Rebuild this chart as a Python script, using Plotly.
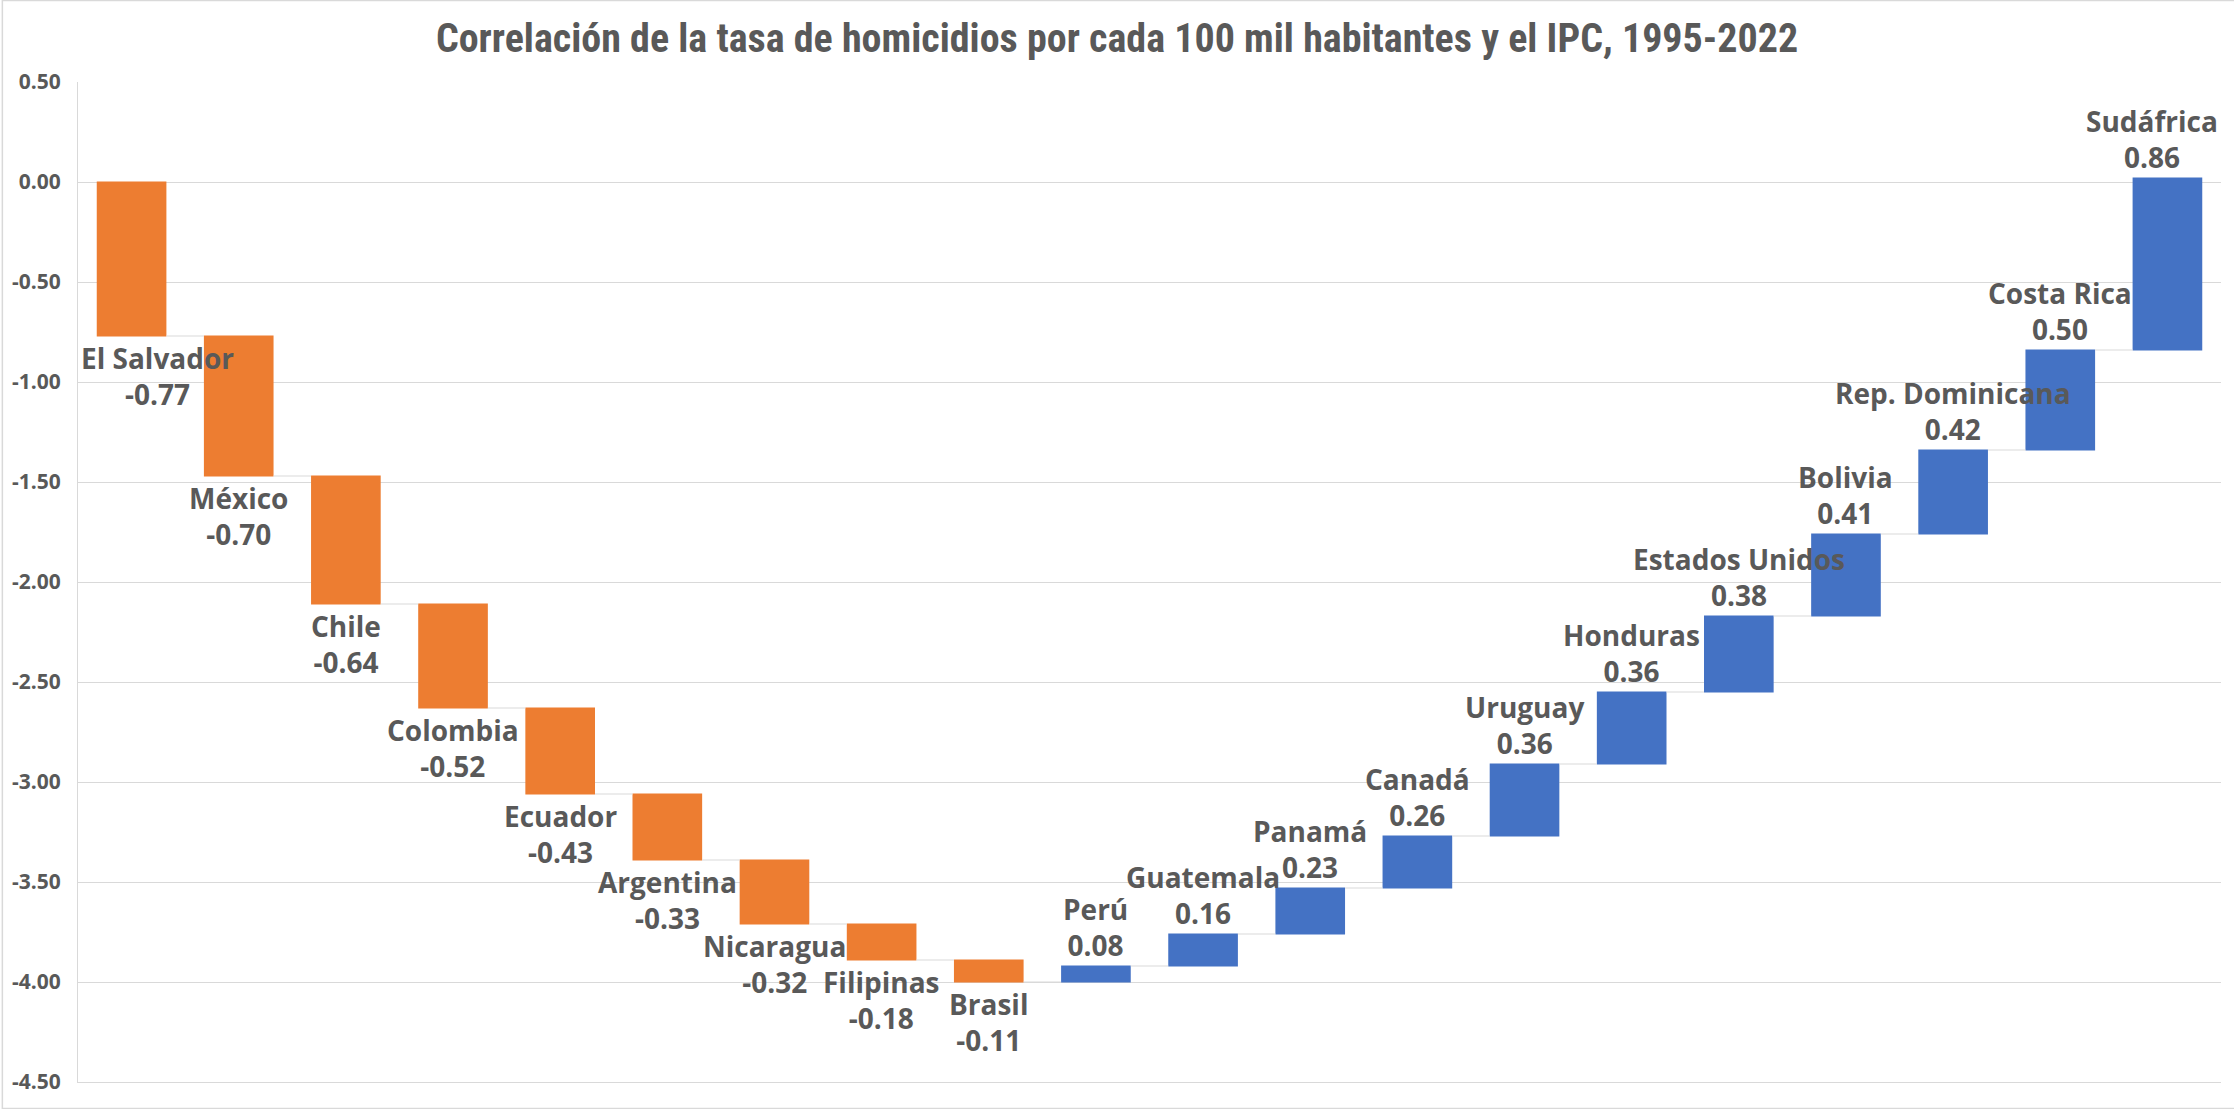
import plotly.graph_objects as go

countries = ["El Salvador", "México", "Chile", "Colombia", "Ecuador", "Argentina",
             "Nicaragua", "Filipinas", "Brasil", "Perú", "Guatemala", "Panamá",
             "Canadá", "Uruguay", "Honduras", "Estados Unidos", "Bolivia",
             "Rep. Dominicana", "Costa Rica", "Sudáfrica"]
values = [-0.77, -0.70, -0.64, -0.52, -0.43, -0.33, -0.32, -0.18, -0.11,
          0.08, 0.16, 0.23, 0.26, 0.36, 0.36, 0.38, 0.41, 0.42, 0.50, 0.86]
y_ticks = [0.5, 0.0, -0.5, -1.0, -1.5, -2.0, -2.5, -3.0, -3.5, -4.0, -4.5]

title_text = "Correlación de la tasa de homicidios por cada 100 mil habitantes y el IPC, 1995-2022"

GRAY = "#595959"
GRID = "#d9d9d9"
LABEL_FONT = "Open Sans, Noto Sans, sans-serif"

fig = go.Figure(go.Waterfall(
    x=countries,
    y=values,
    measure=["relative"] * len(values),
    decreasing=dict(marker=dict(color="#ED7D31")),
    increasing=dict(marker=dict(color="#4472C4")),
    connector=dict(mode="between", line=dict(color=GRID, width=1)),
    textinfo="none",
    hoverinfo="x+y",
))

# data labels at the end of each bar (kept inside the plot area like Excel)
n = len(countries)
cum = 0.0
for i, (name, v) in enumerate(zip(countries, values)):
    cum += v
    if i == 0:
        xpos, xanc = -0.49, "left"
    elif i == n - 1:
        xpos, xanc = n - 0.51, "right"
    else:
        xpos, xanc = i, "center"
    fig.add_annotation(
        x=xpos, y=cum, xref="x", yref="y",
        text=f"{name}<br>{v:.2f}",
        showarrow=False,
        yanchor="top" if v < 0 else "bottom",
        xanchor=xanc,
        yshift=-1 if v < 0 else 0,
        font=dict(family=LABEL_FONT, size=28, color=GRAY, weight="bold"),
    )

# outer chart border
fig.add_shape(type="rect", xref="paper", yref="paper",
              x0=-0.0353, x1=1.0077, y0=-0.0265, y1=1.0815,
              line=dict(color=GRID, width=1.5), layer="below")

fig.update_layout(
    width=2234, height=1109,
    margin=dict(l=76, r=13, t=82, b=27),
    paper_bgcolor="white", plot_bgcolor="white",
    showlegend=False,
    waterfallgap=0.35,
    title=dict(text=title_text, x=0.5, xref="container", xanchor="center",
               y=1 - 38 / 1109, yanchor="middle",
               font=dict(family="Liberation Sans Narrow, Arial Narrow, Roboto Condensed, Roboto, sans-serif",
                         size=40, color=GRAY, weight="bold")),
    xaxis=dict(range=[-0.5, n - 0.5], showticklabels=False, showgrid=False,
               zeroline=False, showline=True, linecolor=GRID, linewidth=1, ticks=""),
    yaxis=dict(range=[-4.5, 0.5], tickvals=y_ticks, ticktext=[f"{t:.2f}" for t in y_ticks],
               showgrid=True, gridcolor=GRID, gridwidth=1, zeroline=False,
               showline=True, linecolor=GRID, linewidth=1, ticks="",
               ticklabelstandoff=12,
               tickfont=dict(family=LABEL_FONT, size=21, color=GRAY, weight="bold")),
)

fig.write_html("out.html")
